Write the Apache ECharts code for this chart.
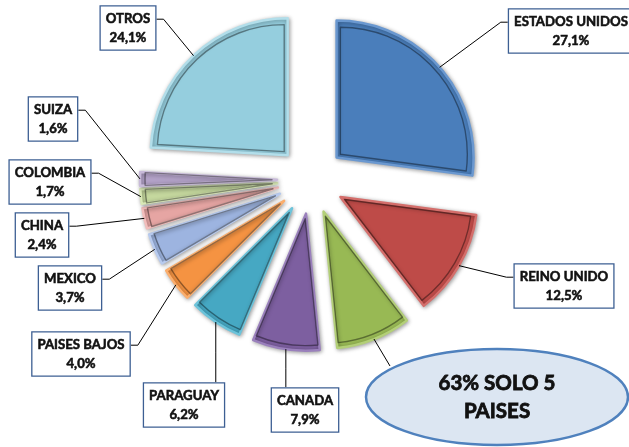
<!DOCTYPE html>
<html><head><meta charset="utf-8">
<script src="https://cdn.jsdelivr.net/npm/echarts@6/dist/echarts.min.js"></script>
<style>html,body{margin:0;padding:0;background:#fff}#c{width:629px;height:447px}</style>
</head><body><div id="c"></div>
<script>
// ---- data ----
const categories = ['ESTADOS UNIDOS','REINO UNIDO','(sin etiqueta)','CANADA','PARAGUAY','PAISES BAJOS','MEXICO','CHINA','COLOMBIA','SUIZA','OTROS'];
const values = [27.1, 12.5, 8.8, 7.9, 6.2, 4.0, 3.7, 2.4, 1.7, 1.6, 24.1];
const calloutText = '63% SOLO 5\nPAISES';

// ---- styling / layout (not data) ----
const colors = ['#4A7EBB','#BE4B48','#98B954','#7D5FA0','#46A8C3','#F59342','#9DB4E0','#E6A5A3','#C5D89E','#B3A2C8','#95CEDE'];
const rimColors = ['#6A98D0','#D46E6B','#B3CF78','#9A80BC','#6CC3DA','#FBAE6D','#B7CAEE','#F2BDBB','#D8E8B6','#C8BAD9','#B2DEEA'];
// label box centres and how the leader attaches
const labelPlace = [
  [571, 31, 'left'], [564, 286, 'left'], [497, 397, 'ellipse'], [305, 410, 'top'], [184, 405, 'top'],
  [81, 354, 'right'], [70, 288, 'right'], [42, 235, 'right'], [50, 182, 'right'], [53, 119, 'right'], [128, 28, 'right']
];
const ellipseAttach = [390, 366];
const CX = 311, CY = 180, R = 137, OFF = 34;

const total = values.reduce((a, b) => a + b, 0);
const mids = [];
let cum = 0;
values.forEach(v => { mids.push((cum + v / 2) / total * 2 * Math.PI); cum += v; });

function fmt(i) {
  if (i === 2) return calloutText;
  return categories[i] + '\n' + values[i].toFixed(1).replace('.', ',') + '%';
}

const sliceData = values.map((v, i) => {
  const st = { color: colors[i], borderColor: rimColors[i], borderWidth: 2.5,
    shadowBlur: 4, shadowColor: 'rgba(0,0,0,0.35)', shadowOffsetX: 1, shadowOffsetY: 1 };
  return { name: categories[i], value: v, selected: true, itemStyle: st, select: { itemStyle: st } };
});
const innerData = values.map((v, i) => {
  const st = { color: 'rgba(0,0,0,0)', borderColor: 'rgba(0,0,0,0.4)', borderWidth: 1.4 };
  return { name: categories[i], value: v, selected: true, itemStyle: st, select: { itemStyle: st } };
});
const labelData = values.map((v, i) => {
  const item = { name: categories[i], value: v };
  if (i === 2) item.label = { backgroundColor: 'transparent', borderWidth: 0, fontSize: 20.5, lineHeight: 28,
    padding: 0, color: '#111', textBorderColor: '#111', textBorderWidth: 0.8 };
  return item;
});

const chart = echarts.init(document.getElementById('c'), null, { renderer: 'canvas' });
chart.setOption({
  animation: false,
  backgroundColor: '#ffffff',
  graphic: [{ type: 'ellipse', z: 1, shape: { cx: 497, cy: 397, rx: 131, ry: 48 },
    style: { fill: '#DCE6F2', stroke: '#4F81BD', lineWidth: 2.5 } }],
  series: [{
    type: 'pie', z: 2, silent: true,
    center: [CX, CY], radius: [0, R],
    startAngle: 90, clockwise: true,
    selectedMode: 'multiple', selectedOffset: OFF,
    emphasis: { disabled: true },
    label: { show: false }, labelLine: { show: false },
    data: sliceData
  }, {
    type: 'pie', z: 3, silent: true,
    center: [CX, CY], radius: [0, R - 10],
    startAngle: 90, clockwise: true,
    selectedMode: 'multiple', selectedOffset: OFF + 5,
    emphasis: { disabled: true },
    label: { show: false }, labelLine: { show: false },
    data: innerData
  }, {
    type: 'pie', z: 4, silent: true,
    center: [CX, CY], radius: [0, R],
    startAngle: 90, clockwise: true,
    avoidLabelOverlap: false,
    emphasis: { disabled: true },
    itemStyle: { color: 'rgba(0,0,0,0)', borderWidth: 0 },
    label: {
      show: true, position: 'outside',
      formatter: p => fmt(p.dataIndex),
      backgroundColor: '#ffffff', borderColor: '#3D5F93', borderWidth: 1.3,
      padding: [3, 5, 2, 5], fontFamily: 'Lato', fontWeight: 'bold', fontSize: 13.2,
      lineHeight: 19, color: '#111111', align: 'center',
      textBorderColor: '#111111', textBorderWidth: 0.55
    },
    labelLine: { show: true, lineStyle: { color: '#000000', width: 1 } },
    labelLayout: function (p) {
      const i = p.dataIndex;
      const pl = labelPlace[i];
      const a = mids[i];
      const ax = CX + (R + OFF) * Math.sin(a), ay = CY - (R + OFF) * Math.cos(a);
      const w = p.labelRect.width, h = p.labelRect.height;
      let pts;
      if (pl[2] === 'left') {
        const ex = pl[0] - w / 2, ey = pl[1] - h / 2 + 14;
        pts = [[ax, ay], [ex - 7, ey], [ex, ey]];
      } else if (pl[2] === 'right') {
        const ex = pl[0] + w / 2, ey = pl[1] - h / 2 + 14;
        pts = [[ax, ay], [ex + 7, ey], [ex, ey]];
      } else if (pl[2] === 'top') {
        const ey = pl[1] - h / 2;
        pts = [[ax, ay], [ax, (ay + ey) / 2], [ax, ey]];
      } else {
        pts = [[ax, ay], ellipseAttach, ellipseAttach];
      }
      return { x: pl[0], y: pl[1], align: 'center', verticalAlign: 'middle', labelLinePoints: pts };
    },
    data: labelData
  }]
});
</script></body></html>
